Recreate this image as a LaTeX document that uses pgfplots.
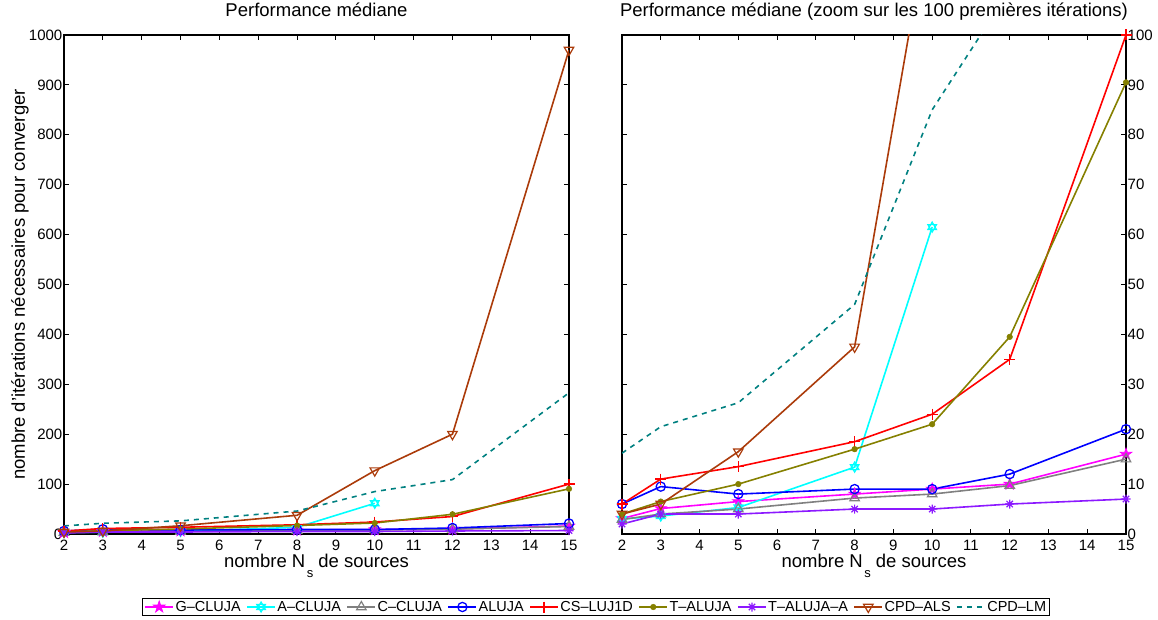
\documentclass[border=0pt]{standalone}
\usepackage{fontspec}
\setmainfont{Liberation Sans}
\usepackage{pgfplots}
\pgfplotsset{compat=1.18}
\usetikzlibrary{plotmarks}

\definecolor{cMag}{rgb}{1,0,1}
\definecolor{cCyan}{rgb}{0,1,1}
\definecolor{cGray}{rgb}{0.5,0.5,0.5}
\definecolor{cBlue}{rgb}{0,0,1}
\definecolor{cRed}{rgb}{1,0,0}
\definecolor{cOlive}{rgb}{0.52,0.5,0}
\definecolor{cPurp}{rgb}{0.55,0.1,1}
\definecolor{cBrown}{rgb}{0.67,0.23,0.04}
\definecolor{cTeal}{rgb}{0,0.5,0.5}

\pgfdeclareplotmark{pentagram}{%
  \pgfpathmoveto{\pgfpointpolar{90}{\pgfplotmarksize}}%
  \pgfpathlineto{\pgfpointpolar{126}{0.382\pgfplotmarksize}}%
  \pgfpathlineto{\pgfpointpolar{162}{\pgfplotmarksize}}%
  \pgfpathlineto{\pgfpointpolar{198}{0.382\pgfplotmarksize}}%
  \pgfpathlineto{\pgfpointpolar{234}{\pgfplotmarksize}}%
  \pgfpathlineto{\pgfpointpolar{270}{0.382\pgfplotmarksize}}%
  \pgfpathlineto{\pgfpointpolar{306}{\pgfplotmarksize}}%
  \pgfpathlineto{\pgfpointpolar{342}{0.382\pgfplotmarksize}}%
  \pgfpathlineto{\pgfpointpolar{18}{\pgfplotmarksize}}%
  \pgfpathlineto{\pgfpointpolar{54}{0.382\pgfplotmarksize}}%
  \pgfpathclose
  \pgfusepathqfillstroke}
\pgfdeclareplotmark{hexagram}{%
  \pgfpathmoveto{\pgfqpoint{0pt}{\pgfplotmarksize}}%
  \pgfpathlineto{\pgfqpoint{-0.866\pgfplotmarksize}{-0.5\pgfplotmarksize}}%
  \pgfpathlineto{\pgfqpoint{0.866\pgfplotmarksize}{-0.5\pgfplotmarksize}}%
  \pgfpathclose
  \pgfpathmoveto{\pgfqpoint{0pt}{-\pgfplotmarksize}}%
  \pgfpathlineto{\pgfqpoint{-0.866\pgfplotmarksize}{0.5\pgfplotmarksize}}%
  \pgfpathlineto{\pgfqpoint{0.866\pgfplotmarksize}{0.5\pgfplotmarksize}}%
  \pgfpathclose
  \pgfusepathqstroke}
\pgfdeclareplotmark{ast8}{%
  \pgfpathmoveto{\pgfqpoint{-\pgfplotmarksize}{0pt}}\pgfpathlineto{\pgfqpoint{\pgfplotmarksize}{0pt}}%
  \pgfpathmoveto{\pgfqpoint{0pt}{-\pgfplotmarksize}}\pgfpathlineto{\pgfqpoint{0pt}{\pgfplotmarksize}}%
  \pgfpathmoveto{\pgfqpoint{-0.707\pgfplotmarksize}{-0.707\pgfplotmarksize}}\pgfpathlineto{\pgfqpoint{0.707\pgfplotmarksize}{0.707\pgfplotmarksize}}%
  \pgfpathmoveto{\pgfqpoint{-0.707\pgfplotmarksize}{0.707\pgfplotmarksize}}\pgfpathlineto{\pgfqpoint{0.707\pgfplotmarksize}{-0.707\pgfplotmarksize}}%
  \pgfusepathqstroke}

\pgfplotsset{
  common/.style={
    scale only axis, height=499pt,
    xmin=2, xmax=15, xtick={2,...,15},
    axis line style={line width=1.1pt},
    every tick/.style={black, line width=1.1pt},
    major tick length=5pt,
    tick label style={font=\fontsize{15}{15}\selectfont, inner ysep=0pt},
    /pgf/number format/assume math mode=true,
    /pgf/number format/set thousands separator={},
    xticklabel style={anchor=base, yshift=-17pt},
    title style={font=\fontsize{18.5}{20}\selectfont, at={(axis description cs:0.5,1)}, anchor=base, yshift=12.3pt},
    xlabel style={font=\fontsize{18.5}{20}\selectfont, at={(axis description cs:0.5,0)}, anchor=base, yshift=-34pt},
    xlabel={nombre N\hspace{1.5pt}\raisebox{-10pt}{\fontsize{13}{13}\selectfont s} de sources},
    every axis plot/.append style={line width=1.6pt},
    legend image code/.code={\draw[mark repeat=2,mark phase=2] plot coordinates {(0pt,0pt) (14pt,0pt) (28pt,0pt)};},
  },
  sG/.style={cMag, mark=pentagram, mark size=6pt, mark options={solid, fill=cMag, line width=0.8pt}},
  sA/.style={cCyan, mark=hexagram, mark size=5pt, mark options={solid, line width=1.2pt}},
  sC/.style={cGray, mark=triangle, mark size=5.5pt, mark options={solid, line width=1.2pt}},
  sAL/.style={cBlue, mark=o, mark size=4.6pt, mark options={solid, line width=1.3pt}},
  sCS/.style={cRed, mark=+, mark size=5.5pt, mark options={solid, line width=1.3pt}},
  sT/.style={cOlive, mark=*, mark size=2.8pt, mark options={solid, fill=cOlive, line width=0.5pt}},
  sTA/.style={cPurp, mark=ast8, mark size=4.5pt, mark options={solid, line width=1.2pt}},
  sALS/.style={cBrown, mark=triangle, mark size=5.5pt, mark options={solid, rotate=180, line width=1.2pt}},
  sLM/.style={cTeal, dash pattern=on 5pt off 5pt, no marks},
}

\pgfplotstableread{
x   G    A     C    AL   CS    T     TA  ALS   LM
2   3.1  3.0   2.9  6.0  6.0   4.0   2   4.0   16.2
3   5.1  3.6   4.0  9.5  11.0  6.5   4   6.0   21.5
5   6.5  5.3   5.0  8.0  13.5  10.0  4   16.5  26.3
8   8.0  13.4  7.2  9.0  18.5  17.0  5   37.5  46.0
10  9.0  61.5  8.0  9.0  24.0  22.0  5   127   85.0
12  10.0 nan   9.7  12.0 35.0  39.5  6   200   109
15  16.0 nan   15.0 21.0 100   90.5  7   970   283
}\data

\begin{document}
\begin{tikzpicture}
\useasboundingbox (-64pt,-86pt) rectangle (1094pt,534pt);
\begin{axis}[common, at={(0pt,0pt)}, anchor=south west, width=505pt,
  ymin=0, ymax=1000, ytick={0,100,...,1000},
  yticklabel style={inner xsep=1.5pt},
  title={Performance médiane},
  ylabel={nombre d'itérations nécessaires pour converger},
  ylabel style={font=\fontsize{18.5}{20}\selectfont, at={(axis description cs:-0.0773,0.5)}, anchor=base, rotate=0},
  legend columns=9,
  legend style={at={(axis description cs:1.0535,-0.1463)}, anchor=center,
    font=\fontsize{14.5}{15}\selectfont, draw=black, line width=0.9pt,
    inner xsep=2pt, inner ysep=1pt, nodes={inner sep=1.5pt},
    /tikz/every even column/.append style={column sep=4pt}},
]
\addplot[sG] table[x=x,y=G] {\data};
\addlegendentry{G\textendash CLUJA}
\addplot[sA] table[x=x,y=A] {\data};
\addlegendentry{A\textendash CLUJA}
\addplot[sC] table[x=x,y=C] {\data};
\addlegendentry{C\textendash CLUJA}
\addplot[sAL] table[x=x,y=AL] {\data};
\addlegendentry{ALUJA}
\addplot[sCS] table[x=x,y=CS] {\data};
\addlegendentry{CS\textendash LUJ1D}
\addplot[sT] table[x=x,y=T] {\data};
\addlegendentry{T\textendash ALUJA}
\addplot[sTA] table[x=x,y=TA] {\data};
\addlegendentry{T\textendash ALUJA\textendash A}
\addplot[sALS] table[x=x,y=ALS] {\data};
\addlegendentry{CPD\textendash ALS}
\addplot[sLM] table[x=x,y=LM] {\data};
\addlegendentry{CPD\textendash LM}
\end{axis}
\begin{axis}[common, at={(558pt,0pt)}, anchor=south west, width=504pt,
  ymin=0, ymax=100, ytick={0,10,...,100},
  yticklabel pos=right,
  yticklabel style={inner xsep=1.5pt},
  title={Performance médiane (zoom sur les 100 premières itérations)},
]
\addplot[sG] table[x=x,y=G] {\data};
\addplot[sA] table[x=x,y=A] {\data};
\addplot[sC] table[x=x,y=C] {\data};
\addplot[sAL] table[x=x,y=AL] {\data};
\addplot[sCS] table[x=x,y=CS] {\data};
\addplot[sT] table[x=x,y=T] {\data};
\addplot[sTA] table[x=x,y=TA] {\data};
\addplot[sALS] table[x=x,y=ALS] {\data};
\addplot[sLM] table[x=x,y=LM] {\data};
\end{axis}
\end{tikzpicture}
\end{document}
